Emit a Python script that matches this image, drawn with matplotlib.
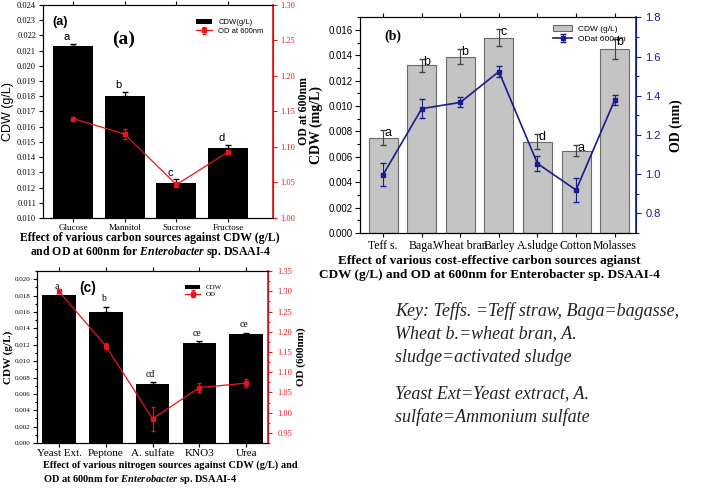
import matplotlib
matplotlib.use("Agg")
import matplotlib.pyplot as plt
import numpy as np
from matplotlib.ticker import MultipleLocator, FormatStrFormatter

plt.rcParams['font.family'] = 'Liberation Serif'
plt.rcParams['mathtext.fontset'] = 'custom'
plt.rcParams['mathtext.rm'] = 'Liberation Serif:bold'
plt.rcParams['mathtext.it'] = 'Liberation Serif:italic:bold'

# (a) carbon sources
carbon = ['Glucose', 'Mannitol', 'Sucrose', 'Fructose']
carbon_cdw = [0.02133, 0.01804, 0.01232, 0.01462]
carbon_cdw_err = [0.00012, 0.00025, 0.00022, 0.0002]
carbon_od = [1.140, 1.118, 1.047, 1.093]
carbon_od_err = [0.002, 0.007, 0.003, 0.002]
carbon_letters = ['a', 'b', 'c', 'd']

# (b) cost-effective carbon sources
cheap = ['Teff s.', 'Baga.', 'Wheat bran', 'Barley', 'A.sludge', 'Cotton', 'Molasses']
cheap_cdw = [0.0075, 0.0132, 0.0139, 0.0154, 0.0072, 0.0065, 0.0145]
cheap_cdw_err = [0.0006, 0.0005, 0.0006, 0.0007, 0.0006, 0.0004, 0.0008]
cheap_od = [0.998, 1.334, 1.366, 1.523, 1.054, 0.919, 1.377]
cheap_od_err = [0.06, 0.05, 0.025, 0.03, 0.04, 0.06, 0.025]
cheap_letters = ['a', 'b', 'b', 'c', 'd', 'a', 'b']

# (c) nitrogen sources
nitro = ['Yeast Ext.', 'Peptone', 'A. sulfate', 'KNO3', 'Urea']
nitro_cdw = [0.01813, 0.01606, 0.0072, 0.01223, 0.01329]
nitro_cdw_err = [0.0, 0.0006, 0.0002, 0.0002, 0.0002]
nitro_od = [1.300, 1.165, 0.985, 1.062, 1.073]
nitro_od_err = [0.002, 0.008, 0.03, 0.012, 0.01]
nitro_letters = ['a', 'b', 'cd', 'ce', 'ce']

RED = '#e8141c'
NAVY = '#1c1c8c'

fig = plt.figure(figsize=(7.09, 4.91), dpi=100)

# ---------------- (a) ----------------
ax = fig.add_axes([0.0607, 0.556, 0.3244, 0.434])
x = np.arange(len(carbon))
ax.bar(x, carbon_cdw, width=0.77, color='black', label='CDW(g/L)',
       yerr=[np.zeros(len(x)), carbon_cdw_err], error_kw=dict(ecolor='black', capsize=2, lw=0.8))
ax.set_ylim(0.010, 0.024)
ax.set_xlim(-0.58, 3.87)
ax.yaxis.set_major_locator(MultipleLocator(0.001))
ax.yaxis.set_major_formatter(FormatStrFormatter('%.3f'))
ax.set_xticks(x)
ax.set_xticklabels(carbon, fontsize=6.5)
ax.tick_params(axis='y', labelsize=6, direction='out', length=3, width=0.8, pad=2)
ax.tick_params(axis='x', direction='out', length=3, width=0.8, pad=1, top=True)
ax.set_ylabel('CDW (g/L)', family='Liberation Sans', fontsize=9, labelpad=2)
for i, l in enumerate(carbon_letters):
    ax.text(x[i] - 0.12, carbon_cdw[i] + carbon_cdw_err[i] + 0.0001, l,
            family='Liberation Sans', fontsize=8, ha='center', va='bottom')
ax2 = ax.twinx()
ax2.errorbar(x, carbon_od, yerr=carbon_od_err, color=RED, marker='s', ms=3.5, lw=0.9,
             capsize=1.5, label='OD at 600nm')
ax2.set_ylim(1.00, 1.30)
ax2.yaxis.set_major_locator(MultipleLocator(0.05))
ax2.yaxis.set_major_formatter(FormatStrFormatter('%.2f'))
ax2.tick_params(axis='y', labelsize=6, colors=RED, direction='out', length=3, width=0.8, pad=2)
ax2.spines['right'].set_color(RED)
ax2.spines['right'].set_linewidth(1.2)
ax2.set_ylabel('OD at 600nm', fontsize=8.5, fontweight='bold', labelpad=2)
h1, l1 = ax.get_legend_handles_labels()
h2, l2 = ax2.get_legend_handles_labels()
ax2.legend(h1 + h2, l1 + l2, loc='upper left', bbox_to_anchor=(0.64, 0.96), frameon=False,
           prop=dict(family='Liberation Sans', size=5.5), handlelength=2.2, labelspacing=0.2,
           borderpad=0.2)
ax.text(0.04, 0.92, '(a)', transform=ax.transAxes, family='Liberation Sans',
        fontsize=9, fontweight='bold', va='center')
ax.text(0.35, 0.84, '(a)', transform=ax.transAxes, fontsize=14, fontweight='bold',
        ha='center', va='center')
fig.text(0.212, 0.515, 'Effect of various carbon sources against CDW (g/L)',
         fontsize=8.5, fontweight='bold', ha='center', va='center')
fig.text(0.212, 0.487, r'and OD at 600nm for $\mathit{Enterobacter}$ sp. DSAAI-4',
         fontsize=8.5, fontweight='bold', ha='center', va='center')

# ---------------- (b) ----------------
bx = fig.add_axes([0.5078, 0.5255, 0.389, 0.4393])
x = np.arange(len(cheap))
bx.bar(x, cheap_cdw, width=0.75, color='#c4c4c4', edgecolor='#6a6a6a', lw=0.8,
       label='CDW (g/L)', yerr=cheap_cdw_err,
       error_kw=dict(ecolor='#444444', capsize=2, lw=0.8))
bx.set_ylim(0, 0.017)
bx.set_xlim(-0.6, 6.55)
bx.yaxis.set_major_locator(MultipleLocator(0.002))
bx.yaxis.set_minor_locator(MultipleLocator(0.001))
bx.yaxis.set_major_formatter(FormatStrFormatter('%.3f'))
bx.set_xticks(x)
bx.set_xticklabels(cheap, fontsize=8.5)
bx.tick_params(axis='y', which='both', labelsize=7, direction='out', width=0.8, pad=2,
               labelfontfamily='Liberation Sans')
bx.tick_params(axis='y', which='major', length=3.5)
bx.tick_params(axis='y', which='minor', length=2)
bx.tick_params(axis='x', direction='out', length=3, width=0.8, pad=2, top=True)
bx.set_ylabel('CDW (mg/L)', fontsize=10, fontweight='bold', labelpad=4)
for i, l in enumerate(cheap_letters):
    bx.text(x[i] + 0.12, cheap_cdw[i] + cheap_cdw_err[i] - 0.0007, l,
            family='Liberation Sans', fontsize=9, ha='center', va='bottom')
bx2 = bx.twinx()
bx2.errorbar(x, cheap_od, yerr=cheap_od_err, color=NAVY, marker='s', ms=3.5, lw=1.2,
             capsize=2, elinewidth=0.8, label='ODat 600nm')
bx2.set_ylim(0.7, 1.8)
bx2.yaxis.set_major_locator(MultipleLocator(0.2))
bx2.yaxis.set_minor_locator(MultipleLocator(0.1))
bx2.tick_params(axis='y', which='both', labelsize=8, colors=NAVY, direction='out', width=0.8,
                labelfontfamily='Liberation Sans')
bx2.tick_params(axis='y', which='major', length=3.5)
bx2.tick_params(axis='y', which='minor', length=2)
bx2.spines['right'].set_color(NAVY)
bx2.spines['right'].set_linewidth(1.2)
bx2.set_ylabel('OD (nm)', fontsize=10, fontweight='bold', labelpad=6)
h1, l1 = bx.get_legend_handles_labels()
h2, l2 = bx2.get_legend_handles_labels()
bx2.legend(h1 + h2, l1 + l2, loc='upper left', bbox_to_anchor=(0.68, 0.99), frameon=False,
           prop=dict(family='Liberation Sans', size=6), handlelength=2.2, labelspacing=0.2,
           borderpad=0.2)
bx.text(0.09, 0.91, '(b)', transform=bx.transAxes, fontsize=10, fontweight='bold', va='center')
fig.text(0.69, 0.469, 'Effect of various cost-effective carbon sources agianst',
         fontsize=9.5, fontweight='bold', ha='center', va='center')
fig.text(0.69, 0.439, 'CDW (g/L) and OD at 600nm for Enterobacter sp. DSAAI-4',
         fontsize=9.5, fontweight='bold', ha='center', va='center')

# ---------------- (c) ----------------
cx = fig.add_axes([0.0522, 0.0978, 0.326, 0.350])
x = np.arange(len(nitro))
cx.bar(x, nitro_cdw, width=0.72, color='black', label='CDW',
       yerr=[np.zeros(len(x)), nitro_cdw_err], error_kw=dict(ecolor='black', capsize=2, lw=0.8))
cx.set_ylim(0, 0.021)
cx.set_xlim(-0.47, 4.47)
cx.yaxis.set_major_locator(MultipleLocator(0.002))
cx.yaxis.set_minor_locator(MultipleLocator(0.001))
cx.yaxis.set_major_formatter(FormatStrFormatter('%.3f'))
cx.set_xticks(x)
cx.set_xticklabels(nitro, fontsize=8)
cx.tick_params(axis='y', which='both', labelsize=5, direction='out', width=0.8, pad=1.5)
cx.tick_params(axis='y', which='major', length=3)
cx.tick_params(axis='y', which='minor', length=1.5)
cx.tick_params(axis='x', direction='out', length=3, width=0.8, pad=1, top=True)
cx.set_ylabel('CDW (g/L)', fontsize=8, fontweight='bold', labelpad=1)
for i, l in enumerate(nitro_letters):
    cx.text(x[i] - 0.05, nitro_cdw[i] + nitro_cdw_err[i] + 0.0004, l,
            fontsize=7, ha='center', va='bottom')
cx2 = cx.twinx()
cx2.errorbar(x, nitro_od, yerr=nitro_od_err, color=RED, marker='s', ms=3.5, lw=0.9,
             capsize=1.5, label='OD')
cx2.set_ylim(0.925, 1.35)
cx2.yaxis.set_major_locator(MultipleLocator(0.05))
cx2.yaxis.set_minor_locator(MultipleLocator(0.025))
cx2.yaxis.set_major_formatter(FormatStrFormatter('%.2f'))
cx2.tick_params(axis='y', which='both', labelsize=6, colors=RED, direction='out', width=0.8)
cx2.tick_params(axis='y', which='major', length=3)
cx2.tick_params(axis='y', which='minor', length=1.5)
cx2.spines['right'].set_color(RED)
cx2.spines['right'].set_linewidth(1.2)
cx2.set_ylabel('OD (600nm)', fontsize=8, fontweight='bold', labelpad=3)
h1, l1 = cx.get_legend_handles_labels()
h2, l2 = cx2.get_legend_handles_labels()
cx2.legend(h1 + h2, l1 + l2, loc='upper left', bbox_to_anchor=(0.62, 0.95), frameon=False,
           prop=dict(size=5), handlelength=2.2, labelspacing=0.1, borderpad=0.2)
cx.text(0.22, 0.9, '(c)', transform=cx.transAxes, family='Liberation Sans', fontsize=10,
        fontweight='bold', ha='center', va='center')
fig.text(0.06, 0.053, 'Effect of various nitrogen sources against CDW (g/L) and',
         fontsize=7.5, fontweight='bold', ha='left', va='center')
fig.text(0.06, 0.024, r'OD at 600nm for $\mathit{Enterobacter}$ sp. DSAAI-4',
         fontsize=7.5, fontweight='bold', ha='left', va='center')

# key
key_lines = ['Key: Teffs. =Teff straw, Baga=bagasse,',
             'Wheat b.=wheat bran, A.',
             'sludge=activated sludge']
key_lines2 = ['Yeast Ext=Yeast extract, A.',
              'sulfate=Ammonium sulfate']
for i, t in enumerate(key_lines):
    fig.text(0.557, 1 - (311 + 23 * i) / 491, t, fontsize=13, style='italic',
             ha='left', va='center', color='#222222')
for i, t in enumerate(key_lines2):
    fig.text(0.557, 1 - (394 + 23 * i) / 491, t, fontsize=13, style='italic',
             ha='left', va='center', color='#222222')

fig.savefig('out.png', dpi=100)
